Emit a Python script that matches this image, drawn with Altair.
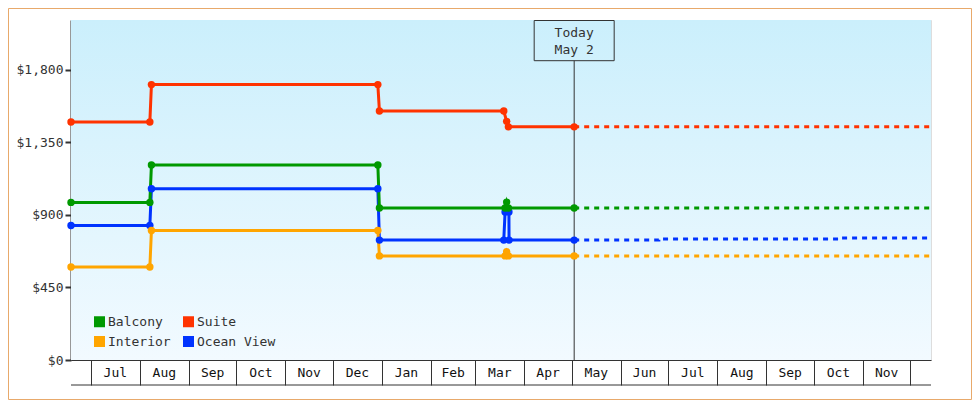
import altair as alt
import pandas as pd

# ---------------- data ----------------
SERIES = ["Balcony", "Interior", "Suite", "Ocean View"]
COLORS = ["#009900", "#ffa500", "#ff3300", "#0033ff"]

suite_dates = ["2022-06-18T12:00", "2022-08-07T08:00", "2022-08-08T08:00", "2022-12-29T10:00",
               "2022-12-30T10:00", "2023-03-19T00:00", "2023-03-20T20:00", "2023-03-21T22:00",
               "2023-05-02T12:00"]
suite_prices = [1477, 1477, 1709, 1709, 1545, 1545, 1481, 1447, 1447]

balcony_dates = ["2022-06-18T12:00", "2022-08-07T08:00", "2022-08-08T08:00", "2022-12-29T10:00",
                 "2022-12-30T10:00", "2023-03-19T20:00", "2023-03-20T20:00", "2023-03-21T22:00",
                 "2023-05-02T12:00"]
balcony_prices = [978, 978, 1210, 1210, 943, 943, 980, 943, 943]

ocean_dates = ["2022-06-18T12:00", "2022-08-07T08:00", "2022-08-08T08:00", "2022-12-29T10:00",
               "2022-12-30T10:00", "2023-03-19T00:00", "2023-03-19T20:00", "2023-03-22T06:00",
               "2023-03-22T08:00", "2023-05-02T12:00"]
ocean_prices = [835, 835, 1063, 1063, 744, 744, 918, 918, 744, 744]

interior_dates = ["2022-06-18T12:00", "2022-08-07T08:00", "2022-08-08T08:00", "2022-12-29T10:00",
                  "2022-12-30T10:00", "2023-03-19T20:00", "2023-03-20T20:00", "2023-03-21T22:00",
                  "2023-05-02T12:00"]
interior_prices = [577, 577, 804, 804, 646, 646, 672, 646, 646]

# future (dashed) projections
suite_future_dates = ["2023-05-02T12:00", "2023-12-14T00:00"]
suite_future_prices = [1447, 1447]
balcony_future_dates = ["2023-05-02T12:00", "2023-12-14T00:00"]
balcony_future_prices = [943, 943]
interior_future_dates = ["2023-05-02T12:00", "2023-12-14T00:00"]
interior_future_prices = [646, 646]
ocean_future_dates = ["2023-05-02T12:00", "2023-06-25T00:00", "2023-06-25T00:00",
                      "2023-10-17T00:00", "2023-10-17T00:00", "2023-12-14T00:00"]
ocean_future_prices = [744, 744, 751, 751, 757, 757]

MONTH_LABELS = ["Jul", "Aug", "Sep", "Oct", "Nov", "Dec", "Jan", "Feb", "Mar", "Apr",
                "May", "Jun", "Jul", "Aug", "Sep", "Oct", "Nov"]
MONTH_STARTS = ["2022-07-01", "2022-08-01", "2022-09-01", "2022-10-01", "2022-11-01",
                "2022-12-01", "2023-01-01", "2023-02-01", "2023-03-01", "2023-04-01",
                "2023-05-01", "2023-06-01", "2023-07-01", "2023-08-01", "2023-09-01",
                "2023-10-01", "2023-11-01", "2023-12-01"]

Y_TICKS = [0, 450, 900, 1350, 1800]
TODAY = "2023-05-02T12:00"
TODAY_LINE1 = "Today"
TODAY_LINE2 = "May 2"


def build(tables):
    rows = []
    for name, dates, prices in tables:
        for i, (d, p) in enumerate(zip(dates, prices)):
            rows.append({"series": name, "date": d, "price": p, "seq": i})
    return pd.DataFrame(rows)


hist = build([("Ocean View", ocean_dates, ocean_prices),
              ("Interior", interior_dates, interior_prices),
              ("Balcony", balcony_dates, balcony_prices),
              ("Suite", suite_dates, suite_prices)])
future = build([("Balcony", balcony_future_dates, balcony_future_prices),
                ("Suite", suite_future_dates, suite_future_prices),
                ("Interior", interior_future_dates, interior_future_prices),
                ("Ocean View", ocean_future_dates, ocean_future_prices)])

starts = pd.to_datetime(MONTH_STARTS)
mids = [starts[i] + (starts[i + 1] - starts[i]) / 2 for i in range(len(MONTH_LABELS))]
months = pd.DataFrame({"mid": [m.strftime("%Y-%m-%dT%H:%M") for m in mids], "label": MONTH_LABELS})

today_df = pd.DataFrame({"date": [TODAY], "l1": [TODAY_LINE1], "l2": [TODAY_LINE2]})
one = pd.DataFrame({"a": [0]})

# ---------------- chart ----------------
W, H = 860, 340
FONT = "DejaVu Sans Mono"

xscale = alt.Scale(domain=[alt.DateTime(year=2022, month=6, date=18, hours=12),
                           alt.DateTime(year=2023, month=12, date=14)], nice=False)
xaxis = alt.Axis(values=[alt.DateTime(year=int(s[:4]), month=int(s[5:7]), date=1) for s in MONTH_STARTS],
                 labels=False, tickSize=25, tickColor="#333", tickWidth=1,
                 domainColor="#333", domainWidth=1, grid=False, title=None)
yscale = alt.Scale(domain=[0, 2110], nice=False)
yaxis = alt.Axis(values=Y_TICKS, format="$,.0f", tickSize=6, tickWidth=2, tickColor="#333",
                 domainColor="#333", domainWidth=2, grid=False, title=None,
                 labelFont=FONT, labelFontSize=13, labelColor="#333", labelPadding=2)
cscale = alt.Scale(domain=SERIES, range=COLORS)
legend = alt.Legend(title=None, orient="none", legendX=22, legendY=295, columns=2, columnPadding=11,
                    rowPadding=6, symbolType="square", symbolSize=121, symbolStrokeWidth=0,
                    symbolOpacity=1, labelFont=FONT, labelFontSize=13, labelColor="#333",
                    labelOffset=2, padding=0)


def X(field):
    return alt.X(field, type="temporal", scale=xscale, axis=xaxis, title=None)


def Y(field):
    return alt.Y(field, type="quantitative", scale=yscale, axis=yaxis, title=None)


def C():
    return alt.Color("series:N", scale=cscale, legend=legend)


bg = alt.Chart(one).mark_rect(
    color=alt.Gradient(gradient="linear", x1=0, x2=0, y1=0, y2=1,
                       stops=[alt.GradientStop(color="#cbeffc", offset=0),
                              alt.GradientStop(color="#f2faff", offset=1)])
).encode(x=alt.value(0), x2=alt.value(W), y=alt.value(0), y2=alt.value(H))

frame = alt.Chart(one).mark_rect(fill="#ffffff", fillOpacity=0, stroke="#e8a96b", strokeWidth=1).encode(
    x=alt.value(-62.5), x2=alt.value(W + 40.5), y=alt.value(-11.5), y2=alt.value(H + 39.5))

bottom_line = alt.Chart(one).mark_rule(color="#333", strokeWidth=1).encode(
    x=alt.value(0), x2=alt.value(W), y=alt.value(H + 25))

month_text = alt.Chart(months).mark_text(font=FONT, fontSize=13, color="#111", baseline="middle").encode(
    x=X("mid"), y=alt.value(H + 12.5), text="label:N")

today_rule = alt.Chart(today_df).mark_rule(color="#333", strokeWidth=1).encode(
    x=X("date"), y=alt.value(40.7), y2=alt.value(H))

today_box = alt.Chart(today_df).mark_rect(fill="#ffffff", fillOpacity=0, stroke="#333", strokeWidth=1,
                                          xOffset=-40, x2Offset=40).encode(
    x=X("date"), x2="date:T", y=alt.value(0.5), y2=alt.value(40.7))

today_lbl1 = alt.Chart(today_df).mark_text(font=FONT, fontSize=13, color="#333", baseline="middle").encode(
    x=X("date"), y=alt.value(12.7), text="l1:N")
today_lbl2 = alt.Chart(today_df).mark_text(font=FONT, fontSize=13, color="#333", baseline="middle").encode(
    x=X("date"), y=alt.value(30.2), text="l2:N")

lines = alt.Chart(hist).mark_line(strokeWidth=3, strokeCap="butt").encode(
    x=X("date"), y=Y("price"), color=C(), detail="series:N", order="seq:Q")

future_lines = alt.Chart(future).mark_line(strokeWidth=3, strokeDash=[5, 5], strokeCap="butt").encode(
    x=X("date"), y=Y("price"), color=C(), detail="series:N", order="seq:Q")

points = alt.Chart(hist).mark_circle(size=55, opacity=1).encode(
    x=X("date"), y=Y("price"), color=C())

chart = alt.layer(frame, bg, bottom_line, month_text, today_rule, today_box, today_lbl1, today_lbl2,
                  lines, future_lines, points).properties(
    width=W, height=H,
    autosize=alt.AutoSizeParams(type="none"),
    padding={"left": 63, "top": 12, "right": 41, "bottom": 40},
).configure_view(stroke=None).configure(background="#ffffff")

chart.save("out.html", embed_options={"renderer": "svg", "actions": False})
